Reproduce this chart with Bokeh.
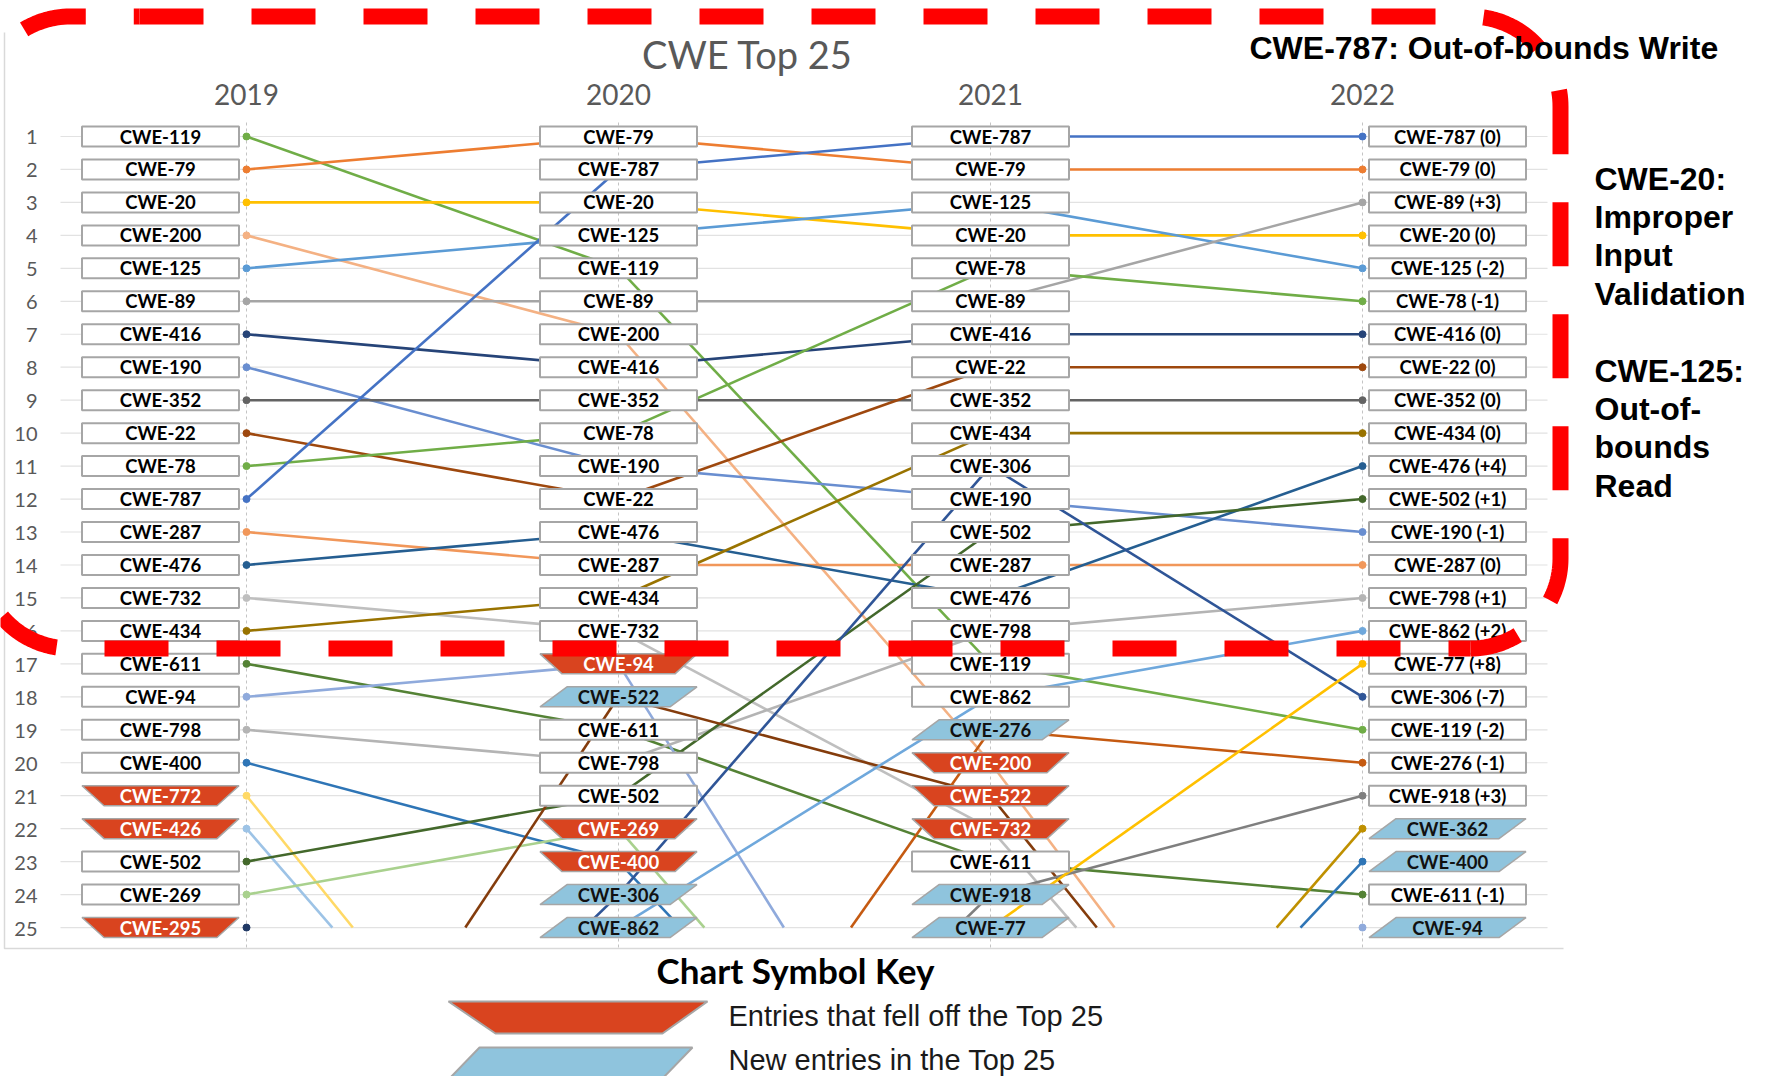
import numpy as np
from bokeh.plotting import figure
from bokeh.models import Range1d, ColumnDataSource
from bokeh.core.properties import value
from bokeh.embed import file_html
from bokeh.resources import INLINE

# ---------------- data ----------------
years = ["2019", "2020", "2021", "2022"]
rank_labels = [str(i) for i in range(1, 26)]

top25_2019 = ["CWE-119", "CWE-79", "CWE-20", "CWE-200", "CWE-125", "CWE-89", "CWE-416", "CWE-190",
              "CWE-352", "CWE-22", "CWE-78", "CWE-787", "CWE-287", "CWE-476", "CWE-732", "CWE-434",
              "CWE-611", "CWE-94", "CWE-798", "CWE-400", "CWE-772", "CWE-426", "CWE-502", "CWE-269",
              "CWE-295"]
top25_2020 = ["CWE-79", "CWE-787", "CWE-20", "CWE-125", "CWE-119", "CWE-89", "CWE-200", "CWE-416",
              "CWE-352", "CWE-78", "CWE-190", "CWE-22", "CWE-476", "CWE-287", "CWE-434", "CWE-732",
              "CWE-94", "CWE-522", "CWE-611", "CWE-798", "CWE-502", "CWE-269", "CWE-400", "CWE-306",
              "CWE-862"]
top25_2021 = ["CWE-787", "CWE-79", "CWE-125", "CWE-20", "CWE-78", "CWE-89", "CWE-416", "CWE-22",
              "CWE-352", "CWE-434", "CWE-306", "CWE-190", "CWE-502", "CWE-287", "CWE-476", "CWE-798",
              "CWE-119", "CWE-862", "CWE-276", "CWE-200", "CWE-522", "CWE-732", "CWE-611", "CWE-918",
              "CWE-77"]
top25_2022 = ["CWE-787", "CWE-79", "CWE-89", "CWE-20", "CWE-125", "CWE-78", "CWE-416", "CWE-22",
              "CWE-352", "CWE-434", "CWE-476", "CWE-502", "CWE-190", "CWE-287", "CWE-798", "CWE-862",
              "CWE-77", "CWE-306", "CWE-119", "CWE-276", "CWE-918", "CWE-362", "CWE-400", "CWE-611",
              "CWE-94"]
# rank at which the chart draws entries that are outside the Top 25
OFF_LIST_RANK = 35

title_text = "CWE Top 25"
note_top = "CWE-787: Out-of-bounds Write"
note_side = ["CWE-20:", "Improper", "Input", "Validation", "", "CWE-125:", "Out-of-", "bounds", "Read"]
key_title = "Chart Symbol Key"
key_fell = "Entries that fell off the Top 25"
key_new = "New entries in the Top 25"

# ---------------- style ----------------
line_colors = {
    "CWE-119": "#70AD47", "CWE-79": "#ED7D31", "CWE-20": "#FFC000", "CWE-200": "#F4B183",
    "CWE-125": "#5B9BD5", "CWE-89": "#A5A5A5", "CWE-416": "#264478", "CWE-190": "#698ED0",
    "CWE-352": "#636363", "CWE-22": "#9E480E", "CWE-78": "#70AD47", "CWE-787": "#4472C4",
    "CWE-287": "#F1975A", "CWE-476": "#255E91", "CWE-732": "#BFBFBF", "CWE-434": "#997300",
    "CWE-611": "#548235", "CWE-94": "#8FAADC", "CWE-798": "#B4B4B4", "CWE-400": "#2E75B6",
    "CWE-772": "#FFD966", "CWE-426": "#9DC3E6", "CWE-502": "#43682B", "CWE-269": "#A9D18E",
    "CWE-295": "#203864", "CWE-522": "#843C0C", "CWE-306": "#2F5597", "CWE-862": "#6FA8DC",
    "CWE-276": "#C55A11", "CWE-918": "#7F7F7F", "CWE-77": "#FFC000", "CWE-362": "#BF9000",
}
RED = "#D9441F"
BLUE = "#8FC4DD"
EDGE = "#A6A6A6"
GRAY_TXT = "#595959"

W, H = 1765, 1076
X0, XSTEP = 246.0, 372.0      # canvas px of first year, px per year
Y0, YSTEP = 136.0, 32.96      # canvas px of rank 1, px per rank


def fx(px):
    return (px - X0) / XSTEP


def fy(py):
    return 1 + (py - Y0) / YSTEP


p = figure(width=W, height=H, x_range=Range1d(fx(0), fx(W)), y_range=Range1d(fy(H), fy(0)),
           output_backend="svg", toolbar_location=None, x_axis_type=None, y_axis_type=None,
           min_border=0, background_fill_color="white", border_fill_color="white")
p.outline_line_color = None

lists = [top25_2019, top25_2020, top25_2021, top25_2022]
ranks = np.arange(1, 26)

# grid lines
p.segment(x0=[fx(60)] * 25, x1=[fx(1547)] * 25, y0=ranks, y1=ranks, line_color="#E2E2E2", line_width=1.2)
# year guide lines
p.segment(x0=list(range(4)), x1=list(range(4)), y0=[fy(122)] * 4, y1=[fy(948)] * 4,
          line_color="#C4C4C4", line_width=1, line_dash="3 3")
# chart frame (left and bottom edges)
p.line(x=[fx(4), fx(4), fx(1563)], y=[fy(32), fy(948), fy(948)], line_color="#D9D9D9", line_width=1.5)

# ---------------- connecting lines ----------------
cwes = []
for lst in lists:
    for c in lst:
        if c not in cwes:
            cwes.append(c)


def rank_of(c, i):
    return lists[i].index(c) + 1 if c in lists[i] else None


xs, ys, cols = [], [], []
for c in cwes:
    for i in range(3):
        a, b = rank_of(c, i), rank_of(c, i + 1)
        if a is None and b is None:
            continue
        a = OFF_LIST_RANK if a is None else a
        b = OFF_LIST_RANK if b is None else b
        if a >= 25 and b >= 25:
            continue
        xa, ya, xb, yb = float(i), float(a), float(i + 1), float(b)
        if a > 25:
            t = (a - 25) / (a - b)
            xa, ya = i + t, 25.0
        if b > 25:
            t = (25 - a) / (b - a)
            xb, yb = i + t, 25.0
        xs.append([xa, xb])
        ys.append([ya, yb])
        cols.append(line_colors[c])
p.multi_line(xs=xs, ys=ys, line_color=cols, line_width=2.6)

# end dots
for yi in (0, 3):
    lst = lists[yi]
    p.scatter(x=[yi] * len(lst), y=list(range(1, len(lst) + 1)), size=7, marker="circle",
              fill_color=[line_colors[c] for c in lst], line_color=[line_colors[c] for c in lst])

# ---------------- labels in boxes ----------------
HW = 78.5 / XSTEP
HH = 10.0 / YSTEP
INSET = 22.0 / XSTEP
SLANT = 27.0 / XSTEP
offsets = [-86.0 / XSTEP, 0.0, 0.0, 85.0 / XSTEP]

rect = dict(l=[], r=[], t=[], b=[])
red_x, red_y, blue_x, blue_y = [], [], [], []
txt = dict(x=[], y=[], t=[], c=[])
for yi, lst in enumerate(lists):
    for k, c in enumerate(lst):
        rk = k + 1
        cx = yi + offsets[yi]
        fell = yi < 3 and c not in lists[yi + 1]
        new = yi > 0 and c not in lists[yi - 1]
        label = c
        color = "#000000"
        if fell:
            red_x.append([cx - HW, cx + HW, cx + HW - INSET, cx - HW + INSET])
            red_y.append([rk - HH, rk - HH, rk + HH, rk + HH])
            color = "#FFFFFF"
        elif new:
            blue_x.append([cx - HW + SLANT, cx + HW, cx + HW - SLANT, cx - HW])
            blue_y.append([rk - HH, rk - HH, rk + HH, rk + HH])
            color = "#111111"
        else:
            rect["l"].append(cx - HW)
            rect["r"].append(cx + HW)
            rect["t"].append(rk - HH)
            rect["b"].append(rk + HH)
            if yi == 3:
                d = rank_of(c, 2) - rk
                label = f"{c} ({'0' if d == 0 else f'{d:+d}'})"
        txt["x"].append(cx)
        txt["y"].append(rk)
        txt["t"].append(label)
        txt["c"].append(color)

p.quad(left=rect["l"], right=rect["r"], top=rect["t"], bottom=rect["b"],
       fill_color="white", line_color=EDGE, line_width=2)
p.patches(xs=red_x, ys=red_y, fill_color=RED, line_color=EDGE, line_width=1.5)
p.patches(xs=blue_x, ys=blue_y, fill_color=BLUE, line_color=EDGE, line_width=1.5)
p.text(x="x", y="y", text="t", text_color="c", source=ColumnDataSource(txt),
       text_font=value("Lato"), text_font_style="bold", text_font_size="18.5px",
       text_align="center", text_baseline="middle")

# rank numbers, years, title
p.text(x=[fx(37)] * 25, y=ranks + 0.03, text=rank_labels, text_font=value("Lato"), text_font_size="20px",
       text_color=GRAY_TXT, text_align="right", text_baseline="middle")
p.text(x=list(range(4)), y=[fy(94)] * 4, text=years, text_font=value("Lato"), text_font_size="28px",
       text_color=GRAY_TXT, text_align="center", text_baseline="middle")
p.text(x=[fx(747)], y=[fy(53)], text=[title_text], text_font=value("Lato"), text_font_size="38px",
       text_color=GRAY_TXT, text_align="center", text_baseline="middle")

# ---------------- red dashed highlight ----------------
L, T, R, B, RAD = -20.0, 16.0, 1560.0, 648.0, 90.0


def arc(cx, cy, a0, a1, n=40):
    th = np.linspace(a0, a1, n)
    return list(cx + RAD * np.cos(th)), list(cy + RAD * np.sin(th))


def path(start, corners, end):
    px, py = [start[0]], [start[1]]
    for (cx, cy, a0, a1) in corners:
        ax, ay = arc(cx, cy, a0, a1)
        px += ax
        py += ay
    px.append(end[0])
    py.append(end[1])
    return [fx(v) for v in px], [fy(v) for v in py]


ax_, ay_ = path((139.0, T), [(R - RAD, T + RAD, -np.pi / 2, 0), (R - RAD, B - RAD, 0, np.pi / 2)],
                (R - RAD, B))
bx_, by_ = path((R - RAD, B), [(L + RAD, B - RAD, np.pi / 2, np.pi), (L + RAD, T + RAD, np.pi, 1.5 * np.pi)],
                (139.0, T))
p.line(x=ax_, y=ay_, line_color="#FF0000", line_width=16, line_dash="64 48", line_cap="butt")
p.line(x=bx_, y=by_, line_color="#FF0000", line_width=16, line_dash="64 48", line_dash_offset=42,
       line_cap="butt")

# ---------------- annotations ----------------
p.text(x=[fx(1249)], y=[fy(47)], text=[note_top], text_font=value("Liberation Sans"),
       text_font_style="bold", text_font_size="32px", text_color="#000000",
       text_align="left", text_baseline="middle")
p.text(x=[fx(1594)] * len(note_side), y=[fy(178 + 38.4 * i) for i in range(len(note_side))],
       text=note_side, text_font=value("Liberation Sans"), text_font_style="bold",
       text_font_size="32px", text_color="#000000", text_align="left", text_baseline="middle")

# ---------------- symbol key ----------------
p.text(x=[fx(795)], y=[fy(969)], text=[key_title], text_font=value("Lato"), text_font_style="bold",
       text_font_size="35px", text_color="#000000", text_align="center", text_baseline="middle")
p.patches(xs=[[fx(448), fx(707), fx(662), fx(495)]], ys=[[fy(1001), fy(1001), fy(1033), fy(1033)]],
          fill_color=RED, line_color=EDGE, line_width=2)
p.patches(xs=[[fx(479), fx(692), fx(661), fx(448)]], ys=[[fy(1047), fy(1047), fy(1079), fy(1079)]],
          fill_color=BLUE, line_color=EDGE, line_width=2)
p.text(x=[fx(728), fx(728)], y=[fy(1015), fy(1059)], text=[key_fell, key_new],
       text_font=value("Liberation Sans"), text_font_size="29px", text_color="#1A1A1A",
       text_align="left", text_baseline="middle")

open("out.html", "w").write(file_html(p, INLINE))
